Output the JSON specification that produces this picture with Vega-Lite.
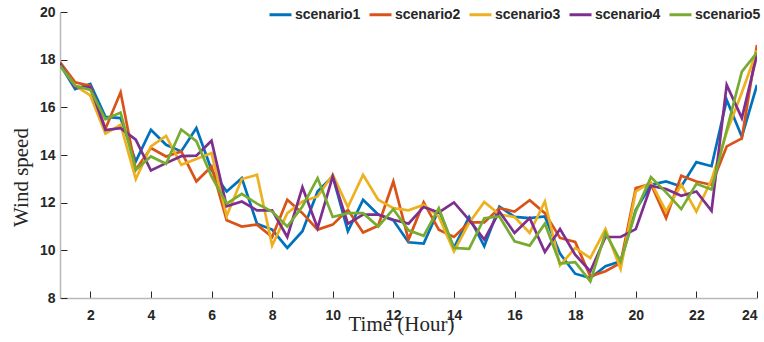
{
  "$schema": "https://vega.github.io/schema/vega-lite/v6.json",
  "autosize": "none",
  "width": 697,
  "height": 286,
  "padding": {"left": 60, "top": 12, "right": 7, "bottom": 44},
  "background": "white",
  "data": {
    "values": [
      {"t": 1, "scenario1": 17.8, "scenario2": 17.9, "scenario3": 17.85, "scenario4": 17.85, "scenario5": 17.75},
      {"t": 1.5, "scenario1": 16.76, "scenario2": 17.05, "scenario3": 16.9, "scenario4": 16.85, "scenario5": 16.9},
      {"t": 2, "scenario1": 16.98, "scenario2": 16.9, "scenario3": 16.5, "scenario4": 16.85, "scenario5": 16.73},
      {"t": 2.5, "scenario1": 15.6, "scenario2": 15.1, "scenario3": 14.9, "scenario4": 15.05, "scenario5": 15.5},
      {"t": 3, "scenario1": 15.55, "scenario2": 16.63, "scenario3": 15.27, "scenario4": 15.13, "scenario5": 15.78},
      {"t": 3.5, "scenario1": 13.73, "scenario2": 13.38, "scenario3": 12.99, "scenario4": 14.64, "scenario5": 13.38},
      {"t": 4, "scenario1": 15.06, "scenario2": 14.29, "scenario3": 14.36, "scenario4": 13.35, "scenario5": 13.94},
      {"t": 4.5, "scenario1": 14.43, "scenario2": 13.94, "scenario3": 14.8, "scenario4": 13.66, "scenario5": 13.63},
      {"t": 5, "scenario1": 14.15, "scenario2": 14.15, "scenario3": 13.59, "scenario4": 13.95, "scenario5": 15.07},
      {"t": 5.5, "scenario1": 15.13, "scenario2": 12.89, "scenario3": 13.83, "scenario4": 13.97, "scenario5": 14.58},
      {"t": 6, "scenario1": 13.38, "scenario2": 13.52, "scenario3": 14.08, "scenario4": 14.6, "scenario5": 13.1},
      {"t": 6.5, "scenario1": 12.47, "scenario2": 11.26, "scenario3": 11.45, "scenario4": 11.85, "scenario5": 11.96},
      {"t": 7, "scenario1": 13.03, "scenario2": 11.0, "scenario3": 12.99, "scenario4": 12.05, "scenario5": 12.37},
      {"t": 7.5, "scenario1": 11.12, "scenario2": 11.08, "scenario3": 13.17, "scenario4": 11.68, "scenario5": 11.96},
      {"t": 8, "scenario1": 10.87, "scenario2": 10.56, "scenario3": 10.2, "scenario4": 11.68, "scenario5": 11.63},
      {"t": 8.5, "scenario1": 10.1, "scenario2": 12.12, "scenario3": 11.56, "scenario4": 10.56, "scenario5": 11.0},
      {"t": 9, "scenario1": 10.8, "scenario2": 11.56, "scenario3": 12.05, "scenario4": 12.65, "scenario5": 11.84},
      {"t": 9.5, "scenario1": 12.47, "scenario2": 10.87, "scenario3": 12.26, "scenario4": 10.94, "scenario5": 13.03},
      {"t": 10, "scenario1": 13.1, "scenario2": 11.08, "scenario3": 13.17, "scenario4": 13.1, "scenario5": 11.4},
      {"t": 10.5, "scenario1": 10.8, "scenario2": 11.7, "scenario3": 11.82, "scenario4": 11.12, "scenario5": 11.56},
      {"t": 11, "scenario1": 12.12, "scenario2": 10.75, "scenario3": 13.17, "scenario4": 11.5, "scenario5": 11.56},
      {"t": 11.5, "scenario1": 11.5, "scenario2": 11.03, "scenario3": 12.12, "scenario4": 11.5, "scenario5": 11.0},
      {"t": 12, "scenario1": 11.26, "scenario2": 12.89, "scenario3": 11.77, "scenario4": 11.28, "scenario5": 11.73},
      {"t": 12.5, "scenario1": 10.34, "scenario2": 10.45, "scenario3": 11.68, "scenario4": 11.12, "scenario5": 10.84},
      {"t": 13, "scenario1": 10.28, "scenario2": 12.01, "scenario3": 11.91, "scenario4": 11.82, "scenario5": 10.61},
      {"t": 13.5, "scenario1": 11.7, "scenario2": 10.87, "scenario3": 11.42, "scenario4": 11.59, "scenario5": 11.77},
      {"t": 14, "scenario1": 10.1, "scenario2": 10.56, "scenario3": 9.96, "scenario4": 12.01, "scenario5": 10.1},
      {"t": 14.5, "scenario1": 11.4, "scenario2": 11.17, "scenario3": 11.15, "scenario4": 11.28, "scenario5": 10.06},
      {"t": 15, "scenario1": 10.17, "scenario2": 11.17, "scenario3": 12.03, "scenario4": 10.45, "scenario5": 11.35},
      {"t": 15.5, "scenario1": 11.84, "scenario2": 11.77, "scenario3": 11.5, "scenario4": 11.63, "scenario5": 11.42},
      {"t": 16, "scenario1": 11.4, "scenario2": 11.63, "scenario3": 11.4, "scenario4": 10.73, "scenario5": 10.38},
      {"t": 16.5, "scenario1": 11.35, "scenario2": 12.1, "scenario3": 10.73, "scenario4": 11.35, "scenario5": 10.2},
      {"t": 17, "scenario1": 11.42, "scenario2": 11.56, "scenario3": 12.05, "scenario4": 9.93, "scenario5": 11.12},
      {"t": 17.5, "scenario1": 9.86, "scenario2": 10.52, "scenario3": 9.37, "scenario4": 10.89, "scenario5": 9.44},
      {"t": 18, "scenario1": 9.02, "scenario2": 10.35, "scenario3": 10.1, "scenario4": 9.82, "scenario5": 9.5},
      {"t": 18.5, "scenario1": 8.84, "scenario2": 8.91, "scenario3": 9.68, "scenario4": 9.12, "scenario5": 8.7},
      {"t": 19, "scenario1": 9.33, "scenario2": 9.12, "scenario3": 10.89, "scenario4": 10.56, "scenario5": 10.73},
      {"t": 19.5, "scenario1": 9.54, "scenario2": 9.47, "scenario3": 9.22, "scenario4": 10.56, "scenario5": 9.54},
      {"t": 20, "scenario1": 11.7, "scenario2": 12.61, "scenario3": 12.47, "scenario4": 10.89, "scenario5": 11.63},
      {"t": 20.5, "scenario1": 12.75, "scenario2": 12.79, "scenario3": 12.85, "scenario4": 12.71, "scenario5": 13.07},
      {"t": 21, "scenario1": 12.89, "scenario2": 11.35, "scenario3": 11.63, "scenario4": 12.57, "scenario5": 12.43},
      {"t": 21.5, "scenario1": 12.68, "scenario2": 13.13, "scenario3": 12.75, "scenario4": 12.29, "scenario5": 11.73},
      {"t": 22, "scenario1": 13.7, "scenario2": 12.89, "scenario3": 11.63, "scenario4": 12.47, "scenario5": 12.79},
      {"t": 22.5, "scenario1": 13.53, "scenario2": 12.75, "scenario3": 12.96, "scenario4": 11.66, "scenario5": 12.55},
      {"t": 23, "scenario1": 16.31, "scenario2": 14.36, "scenario3": 14.95, "scenario4": 16.94, "scenario5": 15.05},
      {"t": 23.5, "scenario1": 14.77, "scenario2": 14.7, "scenario3": 16.62, "scenario4": 15.55, "scenario5": 17.5},
      {"t": 24, "scenario1": 16.94, "scenario2": 18.62, "scenario3": 18.4, "scenario4": 18.2, "scenario5": 18.3}
    ]
  },
  "transform": [
    {"fold": ["scenario1", "scenario2", "scenario3", "scenario4", "scenario5"], "as": ["scenario", "speed"]}
  ],
  "mark": {"type": "line", "strokeWidth": 2.7, "clip": true},
  "encoding": {
    "x": {
      "field": "t", "type": "quantitative",
      "scale": {"domain": [1, 24], "nice": false, "zero": false},
      "axis": {
        "title": "Time (Hour)",
        "values": [2, 4, 6, 8, 10, 12, 14, 16, 18, 20, 22, 24],
        "grid": false,
        "tickSize": -7,
        "labelPadding": 17,
        "titleX": 341,
        "titleY": 32,
        "titleBaseline": "alphabetic"
      }
    },
    "y": {
      "field": "speed", "type": "quantitative",
      "scale": {"domain": [8, 20], "nice": false, "zero": false},
      "axis": {
        "title": "Wind speed",
        "values": [8, 10, 12, 14, 16, 18, 20],
        "grid": false,
        "tickSize": -7,
        "labelPadding": 12,
        "titleX": -39,
        "titleY": 165,
        "titleBaseline": "middle",
        "titleAngle": -90
      }
    },
    "color": {
      "field": "scenario", "type": "nominal",
      "scale": {
        "domain": ["scenario1", "scenario2", "scenario3", "scenario4", "scenario5"],
        "range": ["#0072BD", "#D95319", "#EDB120", "#7E2F8E", "#77AC30"]
      },
      "legend": {
        "title": null,
        "orient": "none",
        "legendX": 208,
        "legendY": -10,
        "direction": "horizontal",
        "columns": 5,
        "symbolType": "stroke",
        "symbolSize": 484,
        "symbolStrokeWidth": 3,
        "labelOffset": 2,
        "columnPadding": 2,
        "padding": 0,
        "labelFont": "Liberation Sans",
        "labelFontWeight": "bold",
        "labelFontSize": 14,
        "labelColor": "#262626",
        "labelLimit": 0
      }
    }
  },
  "config": {
    "view": {"stroke": null},
    "axis": {
      "labelFont": "Liberation Sans",
      "labelFontWeight": "bold",
      "labelFontSize": 14,
      "labelColor": "#262626",
      "tickColor": "#262626",
      "tickWidth": 1,
      "domainColor": "#b8b8b8",
      "domainWidth": 1.5,
      "titleFont": "Liberation Serif",
      "titleFontWeight": "normal",
      "titleFontSize": 21,
      "titleColor": "#262626"
    }
  }
}
